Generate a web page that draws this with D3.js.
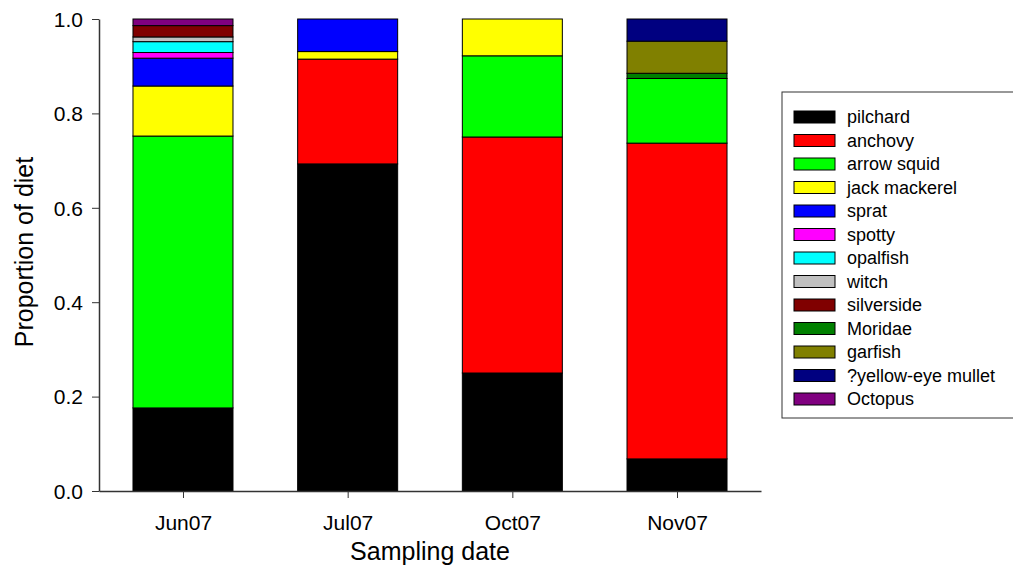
<!DOCTYPE html>
<html>
<head>
<meta charset="utf-8">
<script src="https://cdn.jsdelivr.net/npm/d3@7"></script>
<style>
  body { margin: 0; background: #fff; }
  svg { font-family: "Liberation Sans", Arial, sans-serif; }
</style>
</head>
<body>
<svg id="chart" width="1013" height="567"></svg>
<script>
// Sampling dates and prey categories (stack order bottom -> top)
var dates = ['Jun07', 'Jul07', 'Oct07', 'Nov07'];
var prey = ['pilchard', 'anchovy', 'arrow squid', 'jack mackerel', 'sprat', 'spotty',
  'opalfish', 'witch', 'silverside', 'Moridae', 'garfish', '?yellow-eye mullet', 'Octopus'];
var preyColors = ['#000000', '#ff0000', '#00ff00', '#ffff00', '#0000ff', '#ff00ff',
  '#00ffff', '#c0c0c0', '#800000', '#008000', '#808000', '#000080', '#800080'];

// Proportion of diet per prey, one value per date
var pilchard = [0.176, 0.693, 0.250, 0.068];
var anchovy = [0, 0.222, 0.500, 0.669];
var arrowSquid = [0.576, 0, 0.172, 0.137];
var jackMackerel = [0.106, 0.016, 0.078, 0];
var sprat = [0.059, 0.069, 0, 0];
var spotty = [0.012, 0, 0, 0];
var opalfish = [0.023, 0, 0, 0];
var witch = [0.010, 0, 0, 0];
var silverside = [0.024, 0, 0, 0];
var moridae = [0, 0, 0, 0.011];
var garfish = [0, 0, 0, 0.068];
var yellowEyeMullet = [0, 0, 0, 0.047];
var octopus = [0.014, 0, 0, 0];

var yTicks = [0, 0.2, 0.4, 0.6, 0.8, 1.0];

var series = [pilchard, anchovy, arrowSquid, jackMackerel, sprat, spotty,
  opalfish, witch, silverside, moridae, garfish, yellowEyeMullet, octopus];

// Build rows for d3.stack
var rows = dates.map(function (d, i) {
  var row = { date: d };
  prey.forEach(function (p, j) {
    row[p] = series[j][i];
  });
  return row;
});

var svg = d3.select('#chart');
// plot area (note: "top" is reserved on window, so use other names)
var plotLeft = 99, plotRight = 761, plotTop = 19, plotBottom = 491;

var x = d3.scalePoint().domain(dates).range([plotLeft, plotRight]).padding(0.51);
var y = d3.scaleLinear().domain([0, 1]).range([plotBottom, plotTop]);
var barWidth = 100;

var stacked = d3.stack().keys(prey)(rows);

var layers = svg.append('g').selectAll('g')
  .data(stacked)
  .enter().append('g')
  .attr('fill', function (d, i) { return preyColors[i]; });

layers.selectAll('rect')
  .data(function (d) { return d.filter(function (s) { return s[1] - s[0] > 0; }); })
  .enter().append('rect')
  .attr('x', function (d) { return x(d.data.date) - barWidth / 2; })
  .attr('y', function (d) { return y(d[1]); })
  .attr('width', barWidth)
  .attr('height', function (d) { return y(d[0]) - y(d[1]); })
  .attr('stroke', '#000')
  .attr('stroke-width', 1);

// Y axis
var yAxis = svg.append('g')
  .attr('transform', 'translate(' + plotLeft + ',0)')
  .call(d3.axisLeft(y).tickValues(yTicks).tickFormat(d3.format('.1f')).tickSize(7).tickSizeOuter(0));

// X axis
var xAxis = svg.append('g')
  .attr('transform', 'translate(0,' + plotBottom + ')')
  .call(d3.axisBottom(x).tickSize(7).tickSizeOuter(0));

[yAxis, xAxis].forEach(function (ax) {
  ax.select('.domain').attr('stroke', '#333').attr('stroke-width', 1.5);
  ax.selectAll('.tick line').attr('stroke', '#333');
  ax.selectAll('.tick text')
    .attr('fill', '#000')
    .style('font-family', '"Liberation Sans", Arial, sans-serif')
    .style('font-size', '21px');
});
yAxis.selectAll('.tick text').attr('x', -16).attr('dy', '0.35em');
xAxis.selectAll('.tick text').attr('y', 39).attr('dy', 0);

// Axis titles
svg.append('text')
  .attr('transform', 'translate(33,252) rotate(-90)')
  .attr('text-anchor', 'middle')
  .style('font-size', '25px')
  .text('Proportion of diet');

svg.append('text')
  .attr('x', 430)
  .attr('y', 560)
  .attr('text-anchor', 'middle')
  .style('font-size', '25px')
  .text('Sampling date');

// Legend
var legend = svg.append('g');
legend.append('rect')
  .attr('x', 782).attr('y', 92)
  .attr('width', 240).attr('height', 326)
  .attr('fill', 'none').attr('stroke', '#333').attr('stroke-width', 1);

var items = legend.selectAll('g.item')
  .data(prey)
  .enter().append('g')
  .attr('class', 'item')
  .attr('transform', function (d, i) { return 'translate(794,' + (111 + i * 23.5) + ')'; });

items.append('rect')
  .attr('width', 41).attr('height', 12)
  .attr('fill', function (d, i) { return preyColors[i]; })
  .attr('stroke', '#000');

items.append('text')
  .attr('x', 53).attr('y', 6).attr('dy', '0.35em')
  .style('font-size', '18px')
  .text(function (d) { return d; });
</script>
</body>
</html>
